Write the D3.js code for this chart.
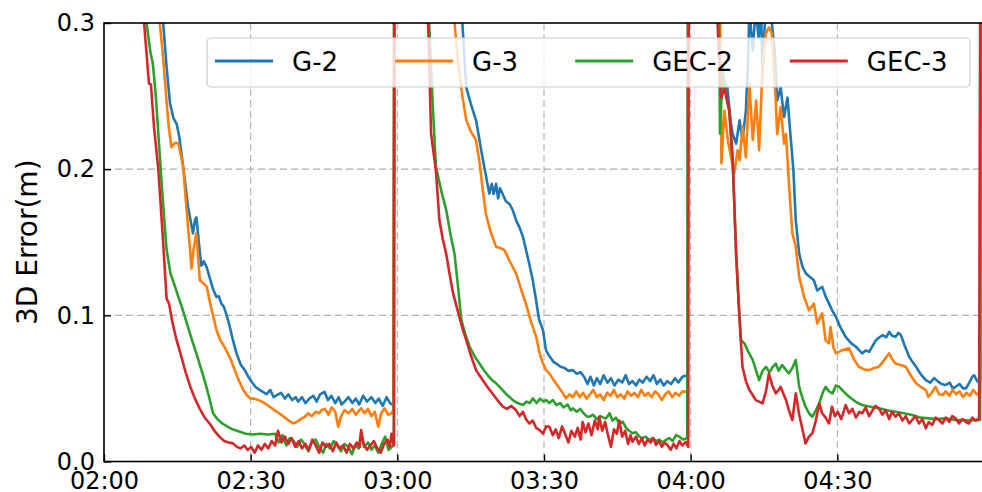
<!DOCTYPE html>
<html>
<head>
<meta charset="utf-8">
<script src="https://cdn.jsdelivr.net/npm/d3@7"></script>
<style>
  html, body { margin: 0; padding: 0; background: #fff; }
  svg { display: block; font-family: "DejaVu Sans", sans-serif; }
</style>
</head>
<body>
<svg id="chart" width="982" height="492"></svg>
<script>
// ---- data (minutes after 02:00, 3D error in metres) ----
const seriesNames = ["G-2", "G-3", "GEC-2", "GEC-3"];
const xTicks = [0, 30, 60, 90, 120, 150];
const xTickLabels = ["02:00", "02:30", "03:00", "03:30", "04:00", "04:30"];
const yTicks = [0, 0.1, 0.2, 0.3];
const yTickLabels = ["0.0", "0.1", "0.2", "0.3"];

const g2 = [
[0,0.9],[8,0.5],[11,0.36],[12.1,0.30],[12.8,0.27],[13.5,0.245],[14.2,0.235],[14.85,0.231],[15.4,0.222],[16.2,0.2015],[17.2,0.174],[17.7,0.165],[18.2,0.156],[18.6,0.165],[18.9,0.167],[19.4,0.15],[19.9,0.134],[20.4,0.137],[21,0.133],[21.6,0.126],[22.3,0.118],[23,0.1126],[23.5,0.113],[24,0.108],[24.5,0.106],[25,0.101],[25.6,0.094],[26.3,0.084],[27.1,0.074],[28,0.066],[28.8,0.0625],[29.5,0.058],[30.3,0.054],[31,0.051],[31.8,0.049],[32.5,0.0477],[33.2,0.046],[34,0.049],[34.7,0.044],[35.4,0.0455],[36.2,0.047],[37,0.043],[37.7,0.046],[38.5,0.042],[39.2,0.044],[39.7,0.041],[40.5,0.044],[41.2,0.040],[42,0.043],[42.8,0.045],[43.5,0.041],[44.2,0.046],[45.1,0.0477],[45.8,0.042],[46.5,0.045],[47.3,0.040],[48,0.044],[48.6,0.039],[49.2,0.041],[50,0.044],[50.8,0.040],[51.5,0.043],[52.2,0.039],[53,0.045],[53.8,0.041],[54.7,0.044],[55.5,0.040],[56.2,0.043],[57,0.038],[57.8,0.044],[58.5,0.040],[59.2,0.0386],
[59.6,0.9],[66,0.6],[72,0.34],[73.3,0.30],[74.1,0.256],[75,0.245],[76.1,0.2334],[76.8,0.22],[77.4,0.2083],[78.1,0.196],[78.8,0.1833],[79.3,0.19],[79.7,0.183],[80.2,0.19],[80.6,0.18],[81,0.187],[81.5,0.1833],[82.2,0.178],[83,0.176],[83.6,0.172],[84.3,0.165],[85,0.16],[85.7,0.1537],[86.3,0.145],[87,0.135],[87.7,0.124],[88.3,0.112],[89,0.097],[89.8,0.0899],[90.4,0.0762],[91.1,0.072],[92,0.068],[92.5,0.067],[93.3,0.065],[94.2,0.064],[95,0.062],[95.9,0.0625],[96.7,0.060],[97.5,0.061],[98.2,0.058],[98.9,0.053],[99.5,0.058],[100.2,0.052],[100.8,0.057],[101.5,0.053],[102.2,0.059],[103,0.054],[103.7,0.057],[104.4,0.052],[105.2,0.056],[106,0.054],[106.7,0.059],[107.4,0.053],[108.1,0.055],[108.8,0.052],[109.5,0.056],[110.2,0.054],[111,0.058],[111.7,0.055],[112.4,0.059],[113.1,0.053],[113.8,0.056],[114.5,0.052],[115.2,0.055],[116,0.053],[116.8,0.057],[117.5,0.054],[118.3,0.058],[119.3,0.059],
[119.8,0.9],[125,0.5],[125.5,0.32],[126.2,0.247],[126.9,0.26],[127.5,0.256],[128.2,0.232],[128.6,0.224],[129.3,0.2175],[130,0.2334],[130.6,0.22],[131.3,0.24],[131.8,0.28],[132,0.31],[132.7,0.281],[133.3,0.31],[133.9,0.29],[134.4,0.31],[134.7,0.263],[135.3,0.31],[136,0.31],[136.6,0.30],[137.2,0.281],[137.7,0.247],[138.4,0.256],[139.1,0.2357],[139.8,0.249],[140.4,0.224],[141,0.20],[141.5,0.165],[142.2,0.142],[142.9,0.133],[143.6,0.1286],[144.4,0.1263],[145.2,0.124],[145.9,0.117],[146.9,0.1195],[147.6,0.113],[148.3,0.108],[149,0.103],[149.7,0.099],[150.6,0.092],[151.7,0.0853],[152.8,0.081],[153.8,0.0785],[154.5,0.076],[155.1,0.074],[155.8,0.076],[156.5,0.075],[157.2,0.079],[157.9,0.083],[158.6,0.085],[159.3,0.0865],[160,0.085],[160.6,0.0887],[161.2,0.086],[161.9,0.0853],[162.5,0.088],[163,0.0865],[163.8,0.079],[164.7,0.0716],[165.4,0.068],[166.1,0.0648],[167,0.060],[168.1,0.0557],[169,0.054],[169.8,0.057],[170.5,0.055],[171.3,0.053],[172.1,0.0523],[173,0.054],[173.6,0.050],[174.2,0.0511],[175,0.053],[175.7,0.050],[176.3,0.050],[177,0.054],[177.6,0.058],[178,0.059],[178.6,0.055],[179.2,0.0545],[179.65,0.9]
];

const g3 = [
[0,0.9],[8,0.5],[11,0.33],[11.4,0.30],[12,0.28],[12.6,0.255],[13.2,0.23],[13.8,0.215],[14.5,0.218],[15.2,0.2175],[15.7,0.21],[16.2,0.2015],[16.7,0.18],[17.2,0.16],[17.6,0.145],[17.9,0.132],[18.3,0.145],[18.9,0.156],[19.3,0.138],[19.6,0.124],[20.3,0.122],[21,0.1195],[21.6,0.11],[22.3,0.10],[23,0.09],[23.8,0.083],[24.7,0.078],[25.7,0.0716],[26.6,0.064],[27.5,0.056],[28.5,0.0489],[29.2,0.0455],[29.9,0.0432],[30.7,0.043],[31.6,0.042],[32.3,0.041],[32.9,0.0398],[33.7,0.038],[34.5,0.036],[35.4,0.034],[36.3,0.0318],[37,0.030],[37.8,0.028],[38.7,0.0261],[39.4,0.027],[40.2,0.029],[41.1,0.0306],[41.8,0.033],[42.5,0.031],[43.3,0.034],[44,0.033],[44.5,0.0352],[45.2,0.036],[45.9,0.032],[46.6,0.037],[47.3,0.034],[47.9,0.0238],[48.5,0.031],[49.2,0.0352],[50,0.033],[50.8,0.036],[51.5,0.032],[52.2,0.035],[52.6,0.0364],[53.3,0.033],[54,0.036],[54.7,0.031],[55.4,0.034],[56.1,0.0238],[56.7,0.033],[57.4,0.0364],[58.1,0.032],[58.8,0.033],[59.2,0.035],
[59.6,0.9],[66,0.6],[70.5,0.36],[71.7,0.30],[72.5,0.27],[73.3,0.25],[74.1,0.2334],[75,0.226],[76.1,0.2198],[76.8,0.205],[77.4,0.1878],[78.1,0.1697],[79,0.158],[80.2,0.1468],[81.1,0.146],[81.9,0.1446],[83,0.137],[84.3,0.1286],[85.3,0.118],[86.3,0.108],[87.3,0.096],[88.4,0.0853],[89.1,0.074],[89.8,0.067],[90.4,0.0625],[91.1,0.0603],[92.1,0.055],[93.2,0.050],[94,0.046],[94.5,0.0432],[95.2,0.046],[95.9,0.044],[96.6,0.048],[97.3,0.044],[98,0.047],[98.7,0.043],[99.4,0.046],[100.1,0.049],[100.8,0.044],[101.5,0.046],[102.2,0.042],[102.9,0.047],[103.6,0.045],[104.3,0.049],[105,0.044],[105.7,0.046],[106.4,0.043],[107.1,0.048],[107.8,0.045],[108.5,0.047],[109.2,0.044],[109.9,0.049],[110.6,0.045],[111.3,0.047],[112,0.044],[112.7,0.048],[113.4,0.046],[114.1,0.042],[114.8,0.046],[115.5,0.048],[116.2,0.044],[116.9,0.047],[117.6,0.045],[118.3,0.048],[119.3,0.0477],
[119.8,0.9],[125,0.5],[126,0.32],[126.3,0.204],[126.9,0.24],[127.6,0.22],[128.9,0.197],[129.6,0.213],[130,0.206],[130.6,0.229],[131.3,0.208],[132,0.2585],[132.7,0.22],[133.4,0.247],[134,0.213],[134.7,0.27],[135.4,0.293],[136,0.297],[136.6,0.293],[137.4,0.247],[137.7,0.224],[138.4,0.2425],[139.1,0.2175],[139.5,0.224],[140.1,0.19],[140.8,0.156],[141.5,0.1468],[142.2,0.1263],[143.2,0.1126],[144.2,0.1035],[145.2,0.108],[145.9,0.0945],[146.9,0.1013],[147.6,0.083],[148.3,0.0808],[148.6,0.092],[149.2,0.078],[149.7,0.074],[151,0.0762],[152.4,0.0774],[153.4,0.070],[154.4,0.0648],[155.5,0.063],[156.5,0.0625],[157.5,0.064],[158.5,0.0648],[159.5,0.069],[160.6,0.074],[161.2,0.070],[161.9,0.067],[163,0.066],[164,0.0648],[165,0.059],[166.1,0.0535],[167.1,0.051],[168.1,0.0489],[168.6,0.0443],[169.3,0.047],[170.1,0.0511],[170.8,0.046],[171.5,0.0455],[172.2,0.048],[172.9,0.045],[173.6,0.049],[174.3,0.046],[175,0.048],[175.7,0.044],[176.4,0.047],[177.1,0.045],[177.8,0.049],[178.5,0.046],[179.2,0.0466],[179.65,0.9]
];

const gec2 = [
[0,0.9],[7,0.5],[8.7,0.30],[9.5,0.28],[10,0.272],[10.6,0.25],[11.3,0.215],[12,0.18],[12.8,0.145],[13.6,0.1286],[14.3,0.122],[15.2,0.1127],[16,0.105],[17,0.094],[18,0.083],[18.9,0.074],[19.8,0.064],[20.7,0.054],[21.5,0.044],[22.3,0.033],[23.2,0.029],[24.2,0.026],[25.2,0.024],[26.3,0.022],[27.8,0.0204],[29,0.019],[30.5,0.0185],[32,0.019],[33.5,0.0185],[35,0.019],[35.7,0.013],[36.5,0.018],[37.3,0.011],[38,0.016],[38.8,0.014],[39.5,0.010],[40.3,0.015],[41,0.012],[41.8,0.007],[42.5,0.013],[43.3,0.015],[44,0.010],[44.8,0.006],[45.5,0.012],[46.2,0.009],[47,0.014],[47.7,0.011],[48.5,0.007],[49.2,0.012],[50,0.010],[50.7,0.005],[51.4,0.011],[52.1,0.009],[52.6,0.020],[53.2,0.010],[54,0.013],[54.7,0.008],[55.4,0.011],[56.1,0.006],[56.8,0.012],[57.5,0.017],[58.2,0.008],[58.9,0.010],[59.3,0.012],
[59.6,0.9],[65,0.5],[66.5,0.30],[67.3,0.24],[67.9,0.2015],[69,0.185],[70,0.172],[70.9,0.155],[71.7,0.142],[72.4,0.12],[73.1,0.0967],[74,0.086],[74.8,0.0785],[75.8,0.072],[76.8,0.067],[77.6,0.063],[78.5,0.059],[79.3,0.056],[80.2,0.0535],[81.2,0.050],[82.3,0.046],[83,0.044],[83.6,0.042],[84.6,0.040],[85.7,0.0386],[86.4,0.041],[87.1,0.040],[87.7,0.0432],[88.5,0.040],[89.2,0.043],[89.9,0.041],[90.4,0.042],[91.1,0.040],[91.8,0.042],[92.5,0.0386],[93.3,0.040],[94,0.037],[94.8,0.039],[95.5,0.035],[95.9,0.0364],[96.7,0.034],[97.4,0.036],[98.1,0.033],[98.7,0.031],[99.3,0.0306],[100,0.032],[100.8,0.029],[101.5,0.031],[102.2,0.030],[102.7,0.0295],[103.4,0.033],[104,0.028],[104.7,0.030],[105.4,0.026],[106.1,0.0272],[106.8,0.023],[107.4,0.021],[108.1,0.0193],[108.8,0.020],[109.5,0.017],[110.2,0.016],[110.8,0.017],[111.5,0.0147],[112.2,0.016],[112.9,0.014],[113.6,0.015],[114.2,0.013],[114.9,0.0147],[115.6,0.016],[116.3,0.014],[117,0.018],[117.7,0.017],[118.4,0.015],[119.3,0.016],
[119.8,0.9],[124,0.5],[125.8,0.30],[126,0.2243],[126.5,0.27],[127.2,0.25],[127.9,0.24],[128.6,0.206],[129.3,0.142],[129.8,0.11],[130.3,0.083],[131,0.0808],[131.8,0.075],[132.7,0.0694],[133.4,0.062],[134,0.0557],[134.7,0.062],[135.4,0.0648],[136.1,0.061],[136.8,0.0648],[137.4,0.067],[138,0.062],[138.7,0.066],[139.4,0.063],[140.1,0.0603],[140.8,0.064],[141.5,0.0694],[142.2,0.0511],[142.9,0.043],[143.5,0.0375],[144.2,0.033],[144.9,0.0306],[145.6,0.035],[146.3,0.0398],[147,0.047],[147.6,0.0511],[148.3,0.048],[149,0.0466],[149.7,0.052],[150.4,0.0511],[151.4,0.0475],[152.4,0.0443],[153.7,0.041],[155.1,0.0386],[156.8,0.0375],[158.5,0.0364],[160.2,0.035],[161.9,0.034],[163.6,0.033],[165.3,0.0318],[167,0.030],[168.7,0.0295],[170.4,0.029],[172.1,0.0295],[173.8,0.0285],[175.5,0.0284],[177.2,0.028],[179.2,0.0284],[179.65,0.9]
];

const gec3 = [
[0,0.9],[7,0.5],[8.2,0.30],[9.2,0.2585],[9.6,0.258],[10.2,0.23],[11.1,0.2004],[12,0.155],[12.8,0.1116],[13.3,0.108],[14,0.095],[14.85,0.083],[15.8,0.072],[16.7,0.061],[17.67,0.051],[18.6,0.043],[19.6,0.036],[20.6,0.030],[21.6,0.026],[22.6,0.021],[23.6,0.017],[24.6,0.014],[25.5,0.013],[26.4,0.0124],[27.2,0.010],[27.9,0.009],[28.7,0.011],[29.4,0.0079],[30.1,0.010],[30.8,0.006],[31.5,0.011],[32.2,0.008],[32.9,0.012],[33.6,0.009],[34.3,0.014],[35,0.011],[35.6,0.021],[36.3,0.013],[37,0.017],[37.7,0.012],[38.4,0.016],[39.1,0.010],[39.8,0.014],[40.5,0.009],[41.2,0.012],[41.9,0.008],[42.6,0.015],[43.3,0.011],[44,0.006],[44.7,0.013],[45.4,0.010],[46.1,0.012],[46.8,0.007],[47.5,0.013],[48.2,0.009],[48.9,0.011],[49.6,0.006],[50.3,0.012],[51,0.009],[51.7,0.013],[52.3,0.010],[52.6,0.0215],[53.1,0.012],[53.8,0.008],[54.5,0.011],[55.2,0.014],[55.9,0.009],[56.6,0.006],[57.3,0.012],[58,0.015],[58.5,0.010],[58.8,0.019],[59.3,0.011],
[59.6,0.9],[65,0.5],[66.3,0.30],[66.9,0.2243],[67.9,0.199],[68.6,0.165],[69.3,0.152],[70,0.142],[70.7,0.128],[71.4,0.115],[72.7,0.099],[73.4,0.09],[74.1,0.083],[75.1,0.072],[76.1,0.0625],[77,0.058],[78,0.053],[78.9,0.0489],[79.8,0.045],[80.7,0.041],[81.6,0.0375],[82.4,0.036],[83.3,0.038],[84.3,0.035],[85,0.031],[85.7,0.034],[86.3,0.029],[87,0.026],[87.7,0.028],[88.4,0.023],[89.1,0.0215],[89.8,0.019],[90.4,0.024],[91.1,0.0238],[91.8,0.018],[92.4,0.022],[93,0.016],[93.7,0.024],[94.3,0.019],[95,0.013],[95.6,0.021],[96.3,0.017],[96.9,0.023],[97.5,0.015],[97.9,0.027],[98.5,0.020],[99.1,0.026],[99.7,0.018],[100.4,0.028],[101,0.022],[101.3,0.0306],[101.9,0.021],[102.5,0.027],[103.1,0.018],[103.7,0.010],[104.3,0.022],[104.9,0.019],[105.4,0.028],[106,0.017],[106.6,0.021],[107.2,0.012],[107.7,0.018],[108.1,0.0135],[108.8,0.017],[109.4,0.012],[110,0.016],[110.6,0.011],[111.2,0.015],[111.8,0.013],[112.4,0.016],[112.9,0.0113],[113.5,0.014],[114.1,0.010],[114.7,0.013],[115.3,0.011],[115.9,0.008],[116.5,0.012],[117.1,0.009],[117.7,0.014],[118.3,0.011],[119,0.0135],[119.5,0.010],
[119.8,0.9],[124,0.5],[125.5,0.30],[126.2,0.249],[127,0.255],[127.9,0.24],[128.6,0.206],[129.3,0.142],[130,0.0967],[130.6,0.0648],[131.3,0.055],[132,0.0489],[132.6,0.046],[133.3,0.042],[134,0.041],[134.7,0.0398],[135.4,0.048],[136,0.0603],[136.7,0.052],[137.4,0.0466],[138,0.049],[138.4,0.0511],[139,0.046],[139.5,0.042],[140.1,0.035],[140.8,0.0284],[141.5,0.0466],[142.2,0.032],[142.9,0.0215],[143.5,0.0124],[144.2,0.017],[144.9,0.0193],[145.6,0.028],[146.3,0.0398],[146.9,0.033],[147.6,0.030],[148.3,0.026],[148.9,0.0375],[149.5,0.031],[150.1,0.034],[150.8,0.029],[151.7,0.0386],[152.4,0.033],[153.1,0.036],[153.8,0.030],[154.5,0.034],[155.1,0.033],[155.8,0.037],[156.5,0.031],[157.2,0.035],[157.8,0.038],[158.5,0.0364],[159.2,0.032],[159.9,0.035],[160.6,0.029],[161.2,0.034],[161.9,0.0306],[162.6,0.033],[163.3,0.028],[164,0.031],[164.7,0.026],[165.3,0.0284],[166,0.031],[166.7,0.026],[167.4,0.029],[168.1,0.0227],[168.7,0.027],[169.4,0.025],[170.1,0.030],[170.8,0.0284],[171.5,0.026],[172.2,0.030],[172.9,0.027],[173.5,0.031],[174.2,0.0295],[174.9,0.026],[175.6,0.029],[176.3,0.027],[176.9,0.026],[177.6,0.030],[178.3,0.028],[179,0.0295],[179.65,0.9]
];

const seriesData = [g2, g3, gec2, gec3];
const colors = ["#1f77b4", "#ff7f0e", "#2ca02c", "#d62728"];

// ---- layout ----
const svg = d3.select("#chart");
const L = 104, R = 984, T = 23, B = 461.5;
const x = d3.scaleLinear().domain([0, 180]).range([L, R]);
const y = d3.scaleLinear().domain([0, 0.3]).range([B, T]);

svg.append("defs").append("clipPath").attr("id", "clip")
  .append("rect").attr("x", L).attr("y", T).attr("width", R - L).attr("height", B - T);

// grid
const grid = svg.append("g");
grid.selectAll(".gx").data(xTicks.slice(1)).enter().append("line")
  .attr("x1", d => x(d)).attr("x2", d => x(d)).attr("y1", T).attr("y2", B)
  .attr("stroke", "#b0b0b0").attr("stroke-width", 1.1).attr("stroke-dasharray", "7,4");
grid.selectAll(".gy").data(yTicks.slice(1, 3)).enter().append("line")
  .attr("x1", L).attr("x2", R).attr("y1", d => y(d)).attr("y2", d => y(d))
  .attr("stroke", "#b0b0b0").attr("stroke-width", 1.1).attr("stroke-dasharray", "7,4");

// lines
const line = d3.line().x(d => x(d[0])).y(d => y(d[1]));
const lg = svg.append("g").attr("clip-path", "url(#clip)");
seriesData.forEach((s, i) => {
  lg.append("path").datum(s).attr("d", line)
    .attr("fill", "none").attr("stroke", colors[i]).attr("stroke-width", 2.6)
    .attr("stroke-linejoin", "round").attr("stroke-linecap", "butt");
});

// axes
const xAxis = d3.axisBottom(x).tickValues(xTicks).tickFormat((d, i) => xTickLabels[i])
  .tickSize(-7).tickPadding(10);
const gx = svg.append("g").attr("transform", `translate(0,${B})`).call(xAxis);
const yAxis = d3.axisLeft(y).tickValues(yTicks).tickFormat((d, i) => yTickLabels[i])
  .tickSize(-7).tickPadding(9);
const gy = svg.append("g").attr("transform", `translate(${L},0)`).call(yAxis);
[gx, gy].forEach(g => {
  g.select(".domain").remove();
  g.selectAll(".tick line").attr("stroke", "#000").attr("stroke-width", 1.4);
  g.selectAll(".tick text").attr("fill", "#000").attr("font-size", 24)
    .attr("font-family", "DejaVu Sans");
});

// frame
svg.append("rect").attr("x", L).attr("y", T).attr("width", R - L).attr("height", B - T)
  .attr("fill", "none").attr("stroke", "#000").attr("stroke-width", 1.6);

// y label
svg.append("text").attr("transform", `translate(37,${(T + B) / 2}) rotate(-90)`)
  .attr("text-anchor", "middle").attr("font-size", 28).attr("fill", "#000")
  .text("3D Error(m)");

// legend
const leg = svg.append("g");
leg.append("rect").attr("x", 207).attr("y", 38).attr("width", 763).attr("height", 49)
  .attr("rx", 4).attr("fill", "#fff").attr("fill-opacity", 0.8)
  .attr("stroke", "#cccccc").attr("stroke-width", 1.2);
let cx = 215;
const handleLen = 58, textGap = 19, colGap = 57, legY = 61;
seriesNames.forEach((name, i) => {
  leg.append("line").attr("x1", cx).attr("x2", cx + handleLen).attr("y1", legY).attr("y2", legY)
    .attr("stroke", colors[i]).attr("stroke-width", 3);
  const t = leg.append("text").attr("x", cx + handleLen + textGap).attr("y", legY + 9.5)
    .attr("font-size", 26).attr("fill", "#000").text(name);
  cx = cx + handleLen + textGap + t.node().getComputedTextLength() + colGap;
});
</script>
</body>
</html>
